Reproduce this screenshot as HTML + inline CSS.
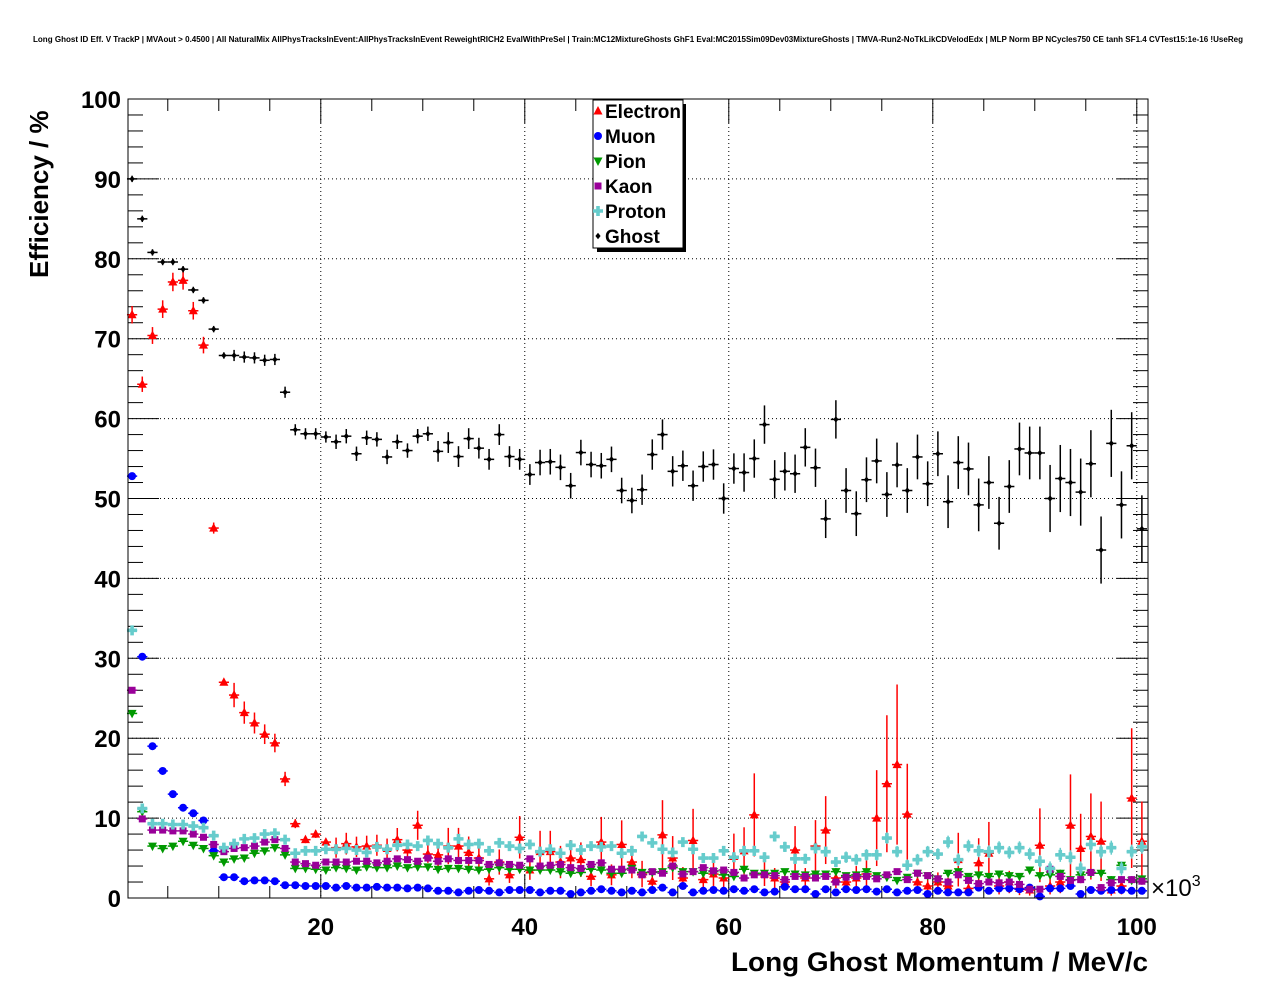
<!DOCTYPE html>
<html><head><meta charset="utf-8"><style>
html,body{margin:0;padding:0;background:#fff;}
svg{display:block;font-family:"Liberation Sans",sans-serif;}
</style></head><body>
<svg id="chart" width="1276" height="996" viewBox="0 0 1276 996" xmlns="http://www.w3.org/2000/svg">
<rect x="0" y="0" width="1276" height="996" fill="#fff"/>
<text x="33" y="42" font-size="8" font-weight="bold" textLength="1210" lengthAdjust="spacingAndGlyphs">Long Ghost ID Eff. V TrackP | MVAout &gt; 0.4500 | All NaturalMix AllPhysTracksInEvent:AllPhysTracksInEvent ReweightRICH2 EvalWithPreSel | Train:MC12MixtureGhosts GhF1 Eval:MC2015Sim09Dev03MixtureGhosts | TMVA-Run2-NoTkLikCDVelodEdx | MLP Norm BP NCycles750 CE tanh SF1.4 CVTest15:1e-16 !UseReg</text>
<g id="grid"></g>
<g id="axes"></g>
<g id="series"></g>
<rect x="128" y="99" width="1020" height="799" fill="none" stroke="#000" stroke-width="1"/>
<text x="731" y="971" font-size="27" font-weight="bold" textLength="417" lengthAdjust="spacingAndGlyphs">Long Ghost Momentum / MeV/c</text>
<text transform="translate(48,278) rotate(-90)" x="0" y="0" font-size="26" font-weight="bold">Efficiency / %</text>
<text x="1151" y="896" font-size="24">×10<tspan font-size="16" dy="-10">3</tspan></text>
<g id="legend"></g>
</svg>
<script>
const categories = Array.from({length:100},(_,i)=>i+1.5); // bin centres (×10^3 MeV/c)
const xTicks = [20,40,60,80,100];
const yTicks = [0,10,20,30,40,50,60,70,80,90,100];
const seriesNames = ["Electron","Muon","Pion","Kaon","Proton","Ghost"];
const electron = [73.0,64.3,70.4,73.7,77.1,77.3,73.5,69.2,46.3,27.0,25.4,23.2,21.9,20.5,19.4,14.9,9.3,
7.3,8.0,7.0,6.3,6.8,6.4,6.5,6.6,6.2,7.3,6.0,9.1,5.5,
5.4,6.5,6.5,5.7,5.0,2.4,4.5,2.9,7.6,3.5,5.8,5.8,4.5,5.0,4.8,2.7,7.0,2.9,6.7,4.5,3.0,2.1,7.9,5.0,
2.5,7.2,2.3,3.0,2.5,5.2,5.9,10.4,3.0,2.5,2.0,6.0,2.5,6.5,8.5,2.5,2.0,2.5,3.0,10.0,14.3,16.7,10.5,2.0,
1.5,2.0,1.5,4.8,1.2,4.4,5.6,1.5,2.0,1.2,1.0,6.6,1.5,2.0,9.1,6.2,7.7,7.1,1.0,1.5,12.5,7.1];
const muon = [52.8,30.2,19.0,15.9,13.0,11.3,10.6,9.7,5.9,2.6,2.6,2.1,2.2,2.2,2.1,1.6,1.6,1.5,1.5,1.5,1.3,1.5,1.3,1.3,1.4,1.3,1.3,1.2,1.3,1.2,
0.9,0.9,0.7,0.9,1.0,0.9,0.7,1.0,1.0,1.0,0.7,0.9,0.9,0.5,0.7,0.9,1.1,0.9,0.7,0.9,0.7,1.0,1.3,0.7,
1.5,0.7,0.9,1.0,0.9,1.1,0.9,1.1,0.7,0.8,1.4,1.1,1.1,0.5,1.1,0.7,1.1,1.0,1.1,0.8,1.1,0.7,0.9,1.0,
0.5,0.9,0.7,0.7,0.7,1.3,0.9,1.2,1.2,1.1,1.3,0.2,1.2,1.2,1.5,0.5,1.0,0.9,1.0,1.0,0.9,0.9];
const pion = [23.1,10.8,6.5,6.2,6.5,7.1,6.6,6.2,5.3,4.5,4.9,5.0,5.6,5.9,6.3,5.4,3.7,3.7,3.6,3.5,3.8,3.7,3.5,3.9,3.8,3.8,4.0,3.8,3.9,3.9,
3.6,3.7,3.7,3.6,3.5,3.6,3.8,3.6,3.6,3.5,3.5,3.5,3.3,3.1,3.2,3.6,3.5,3.1,3.1,3.7,3.2,3.2,3.3,3.8,
3.3,3.3,3.1,3.3,2.9,2.7,3.6,3.1,3.1,3.1,3.3,3.0,2.9,3.0,3.0,3.3,2.8,2.9,3.3,2.8,2.6,2.2,2.6,3.1,
2.8,2.4,3.1,3.3,2.7,2.9,2.7,3.0,2.8,2.7,3.5,2.8,2.9,3.1,2.3,2.9,3.1,3.1,2.3,4.1,2.2,2.4];
const kaon = [26.0,9.9,8.5,8.5,8.4,8.4,8.0,7.6,6.7,5.8,6.2,6.3,6.5,7.0,7.3,6.2,4.5,4.3,4.1,4.5,4.5,4.5,4.6,4.6,4.4,4.6,4.9,4.8,4.6,5.0,
4.6,4.9,4.7,4.7,4.7,4.2,4.4,4.2,4.1,4.9,4.0,4.1,4.2,3.8,3.7,4.2,4.4,3.6,3.6,3.5,2.9,3.3,3.1,4.0,
3.0,3.3,3.8,3.4,3.5,3.2,2.5,2.9,2.9,2.8,2.3,2.7,2.7,2.5,2.7,2.0,2.6,2.7,2.7,2.4,2.9,3.3,2.3,3.1,
2.8,2.4,2.0,2.9,2.2,1.8,2.0,1.9,2.0,1.7,1.1,1.1,3.6,2.7,2.2,2.3,3.2,1.3,1.9,2.3,2.3,2.1];
const proton = [33.5,11.2,9.3,9.3,9.2,9.2,9.0,8.8,7.8,6.3,6.8,7.4,7.5,8.0,8.1,7.3,5.6,5.9,5.9,6.1,6.1,6.2,6.0,5.7,6.4,6.1,6.6,6.7,6.5,7.2,
6.8,6.3,7.4,6.7,6.8,5.9,6.9,6.5,6.2,6.7,5.8,6.1,5.6,6.6,6.0,6.5,6.4,6.5,5.6,5.9,7.7,6.9,6.1,5.7,
7.0,6.1,5.0,5.0,5.9,5.1,5.9,5.9,5.1,7.7,6.4,4.9,4.9,6.2,5.8,4.5,5.1,4.8,5.4,5.4,7.5,5.8,4.1,4.8,
5.8,5.5,7.0,4.8,6.5,5.9,5.8,6.3,5.7,6.3,5.5,4.6,3.7,5.4,5.1,3.7,6.7,5.8,6.3,3.7,5.8,6.4];
const ghost = [90.0,85.0,80.8,79.6,79.6,78.7,76.1,74.8,71.2,67.9,67.9,67.7,67.6,67.3,67.4,63.3,
58.6,58.1,58.1,57.7,57.1,57.8,55.6,57.6,57.4,55.2,57.1,56.0,57.8,58.1,55.9,
57.0,55.25,57.5,56.3,54.9,58.0,55.25,54.9,53.0,54.5,54.6,53.9,51.6,55.75,54.25,54.1,54.9,51.0,49.75,51.1,55.5,58.0,53.4,54.1,51.6,54.0,54.25,50.0,53.75,53.25,55.0,59.25,52.4,53.4,
53.1,56.4,53.85,47.45,59.9,51.0,48.1,52.35,54.7,50.5,54.2,51.0,55.2,51.85,55.6,49.6,54.5,53.7,49.2,52.0,46.9,51.5,56.2,55.7,55.7,50.0,52.5,52.0,50.8,54.35,43.55,56.9,49.2,56.6,46.2];
const ghostErrByDecade = [0.4,0.7,0.9,1.3,1.6,1.9,2.4,2.8,3.3,4.2];
const electronRelErrByDecade = [0.015,0.06,0.2,0.35,0.45,0.55,0.5,0.6,0.7,0.7];
const hadronErrByDecade = [0.2,0.3,0.4,0.5,0.6,0.7,0.8,0.9,1.0,1.1];

const NS = "http://www.w3.org/2000/svg";
const X0=128, X1=1148, Y0=898, Y1=99, XMIN=1.1, XMAX=101.1, YMIN=0, YMAX=100;
const xScale = v => X0 + (v-XMIN)/(XMAX-XMIN)*(X1-X0);
const yScale = v => Y0 - (v-YMIN)/(YMAX-YMIN)*(Y0-Y1);
function mk(tag, attrs, parent){const e=document.createElementNS(NS,tag);for(const k in attrs)e.setAttribute(k,attrs[k]);parent.appendChild(e);return e;}
const grid=document.getElementById('grid'), axes=document.getElementById('axes'), ser=document.getElementById('series'), leg=document.getElementById('legend');

xTicks.forEach(t=>{
  const x=xScale(t);
  const g=mk('line',{x1:x,x2:x,y1:Y1,y2:Y0,stroke:'#000','stroke-width':1,'stroke-dasharray':'1 3'},grid);
  
  
  const l=mk('text',{x:x,y:935,'font-size':24,'font-weight':'bold','text-anchor':'middle'},axes);
  l.textContent=t;
  
  
});
yTicks.forEach(t=>{
  const y=yScale(t);
  if(t>0&&t<100){
    const g=mk('line',{x1:X0,x2:X1,y1:y,y2:y,stroke:'#000','stroke-width':1,'stroke-dasharray':'1 3'},grid);
    
    
  }
  const l=mk('text',{x:121,y:y+9,'font-size':24,'font-weight':'bold','text-anchor':'end'},axes);
  l.textContent=t;
  
  
});
for(let v=0; v<=100; v+=2){
  const y=yScale(v), len=(v%10===0)?31:15;
  const a=mk('line',{x1:X0,x2:X0+len,y1:y,y2:y,stroke:'#000'},axes);
  
  
  const b=mk('line',{x1:X1,x2:X1-len,y1:y,y2:y,stroke:'#000'},axes);
  
  
}
for(let v=5; v<=100; v+=5){
  const x=xScale(v), len=(v%20===0)?24:12;
  const a=mk('line',{x1:x,x2:x,y1:Y0,y2:Y0-len,stroke:'#000'},axes);
  
  
  const b=mk('line',{x1:x,x2:x,y1:Y1,y2:Y1+len,stroke:'#000'},axes);
  
  
}

function marker(kind,color,x,y,parent){
  let e;
  if(kind==='tri-up') e=mk('polygon',{points:`${x},${y-5} ${x-4.5},${y+3.5} ${x+4.5},${y+3.5}`,fill:color},parent);
  else if(kind==='tri-down') e=mk('polygon',{points:`${x},${y+5} ${x-4.5},${y-3.5} ${x+4.5},${y-3.5}`,fill:color},parent);
  else if(kind==='circle') e=mk('circle',{cx:x,cy:y,r:4,fill:color},parent);
  else if(kind==='square') e=mk('rect',{x:x-3.5,y:y-3.5,width:7,height:7,fill:color},parent);
  else if(kind==='cross') e=mk('path',{d:`M${x-1.8},${y-5}h3.6v3.2h3.2v3.6h-3.2v3.2h-3.6v-3.2h-3.2v-3.6h3.2z`,fill:color},parent);
  else e=mk('path',{d:`M${x},${y-3.2}L${x+2.6},${y}L${x},${y+3.2}L${x-2.6},${y}z`,fill:color},parent);
  return e;
}
const defs = [
  {name:'electron',label:'Electron',data:electron,color:'#ff0000',kind:'tri-up',err:(i,v)=>Math.max(0.3,v*electronRelErrByDecade[Math.floor(i/10)])},
  {name:'muon',label:'Muon',data:muon,color:'#0000ff',kind:'circle',err:(i,v)=>0.15},
  {name:'pion',label:'Pion',data:pion,color:'#009900',kind:'tri-down',err:(i,v)=>hadronErrByDecade[Math.floor(i/10)]*0.4},
  {name:'kaon',label:'Kaon',data:kaon,color:'#990099',kind:'square',err:(i,v)=>hadronErrByDecade[Math.floor(i/10)]*0.4},
  {name:'proton',label:'Proton',data:proton,color:'#66cccc',kind:'cross',err:(i,v)=>hadronErrByDecade[Math.floor(i/10)]*0.8},
  {name:'ghost',label:'Ghost',data:ghost,color:'#000000',kind:'diamond',err:(i,v)=>ghostErrByDecade[Math.floor(i/10)]}
];
defs.forEach(s=>{
  const g=mk('g',{},ser);
  
  
  s.data.forEach((v,i)=>{
    const c=categories[i], x=xScale(c), y=yScale(v), e=s.err(i,v);
    const p=mk('g',{},g);
    
    
    mk('line',{x1:xScale(c-0.5),x2:xScale(c+0.5),y1:y,y2:y,stroke:s.color,'stroke-width':1.5},p);
    mk('line',{x1:x,x2:x,y1:Math.max(Y1,yScale(v+e)),y2:Math.min(Y0,yScale(v-e)),stroke:s.color,'stroke-width':1.5},p);
    marker(s.kind,s.color,x,y,p);
  });
});
mk('rect',{x:597,y:104,width:89,height:148,fill:'#000'},leg);
const lb=mk('rect',{x:593,y:100,width:90,height:148,fill:'#fff',stroke:'#000'},leg);


defs.forEach((s,k)=>{
  const y=111+k*25;
  const g=mk('g',{},leg);
  
  
  marker(s.kind,s.color,598,y,g);
  const t=mk('text',{x:605,y:y+7,'font-size':19,'font-weight':'bold'},g);
  t.textContent=s.label;
});
</script>
</body></html>
